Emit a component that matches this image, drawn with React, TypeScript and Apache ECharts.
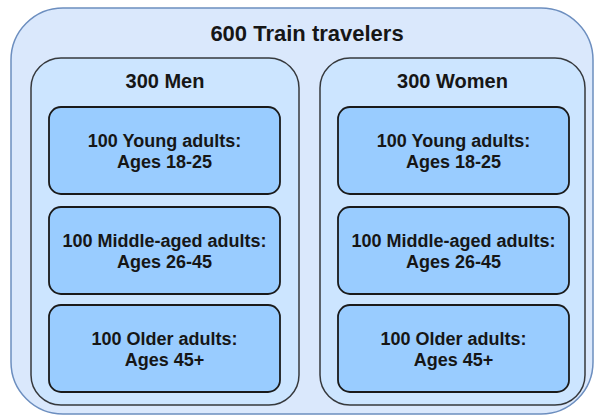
import React, { useEffect, useRef } from "react";
import * as echarts from "echarts";

const rootLabel = "600 Train travelers";
const groupLabels = ["300 Men", "300 Women"];
const subgroupLabels = [
  "100 Young adults:\nAges 18-25",
  "100 Middle-aged adults:\nAges 26-45",
  "100 Older adults:\nAges 45+",
];

const FONT = "'Liberation Sans', Arial, sans-serif";

export default function App() {
  const ref = useRef<HTMLDivElement>(null);
  useEffect(() => {
    document.body.style.margin = "0";
    const chart = echarts.init(ref.current!, null, { renderer: "svg" });
    const elements: any[] = [];
    elements.push({
      type: "rect",
      shape: { x: 11, y: 8, width: 582, height: 406, r: 52 },
      style: { fill: "#dae8fc", stroke: "#6c8ebf", lineWidth: 1.5 },
    });
    elements.push({
      type: "text",
      x: 307,
      y: 33,
      style: {
        text: rootLabel,
        font: `bold 22px ${FONT}`,
        fill: "#161616",
        align: "center",
        verticalAlign: "middle",
      },
    });
    const groupX = [31, 320];
    const groupW = [268, 265];
    groupLabels.forEach((g, gi) => {
      const gx = groupX[gi];
      const gw = groupW[gi];
      elements.push({
        type: "rect",
        shape: { x: gx, y: 58, width: gw, height: 347, r: 30 },
        style: { fill: "#cce5ff", stroke: "#36393d", lineWidth: 1.5 },
      });
      elements.push({
        type: "text",
        x: gx + gw / 2,
        y: 81,
        style: {
          text: g,
          font: `bold 20px ${FONT}`,
          fill: "#161616",
          align: "center",
          verticalAlign: "middle",
        },
      });
      const bx = gx + 18;
      const bw = 231;
      const tops = [107, 207, 305];
      subgroupLabels.forEach((s, si) => {
        elements.push({
          type: "rect",
          shape: { x: bx, y: tops[si], width: bw, height: 87, r: 12 },
          style: { fill: "#99ccff", stroke: "#1a1a1a", lineWidth: 1.8 },
        });
        elements.push({
          type: "text",
          x: bx + bw / 2,
          y: tops[si] + 44,
          style: {
            text: s,
            font: `bold 18px ${FONT}`,
            lineHeight: 21,
            fill: "#161616",
            align: "center",
            verticalAlign: "middle",
          },
        });
      });
    });
    chart.setOption({
      animation: false,
      backgroundColor: "#ffffff",
      graphic: { elements },
    });
    return () => chart.dispose();
  }, []);
  return <div ref={ref} style={{ width: 594, height: 416 }} />;
}
